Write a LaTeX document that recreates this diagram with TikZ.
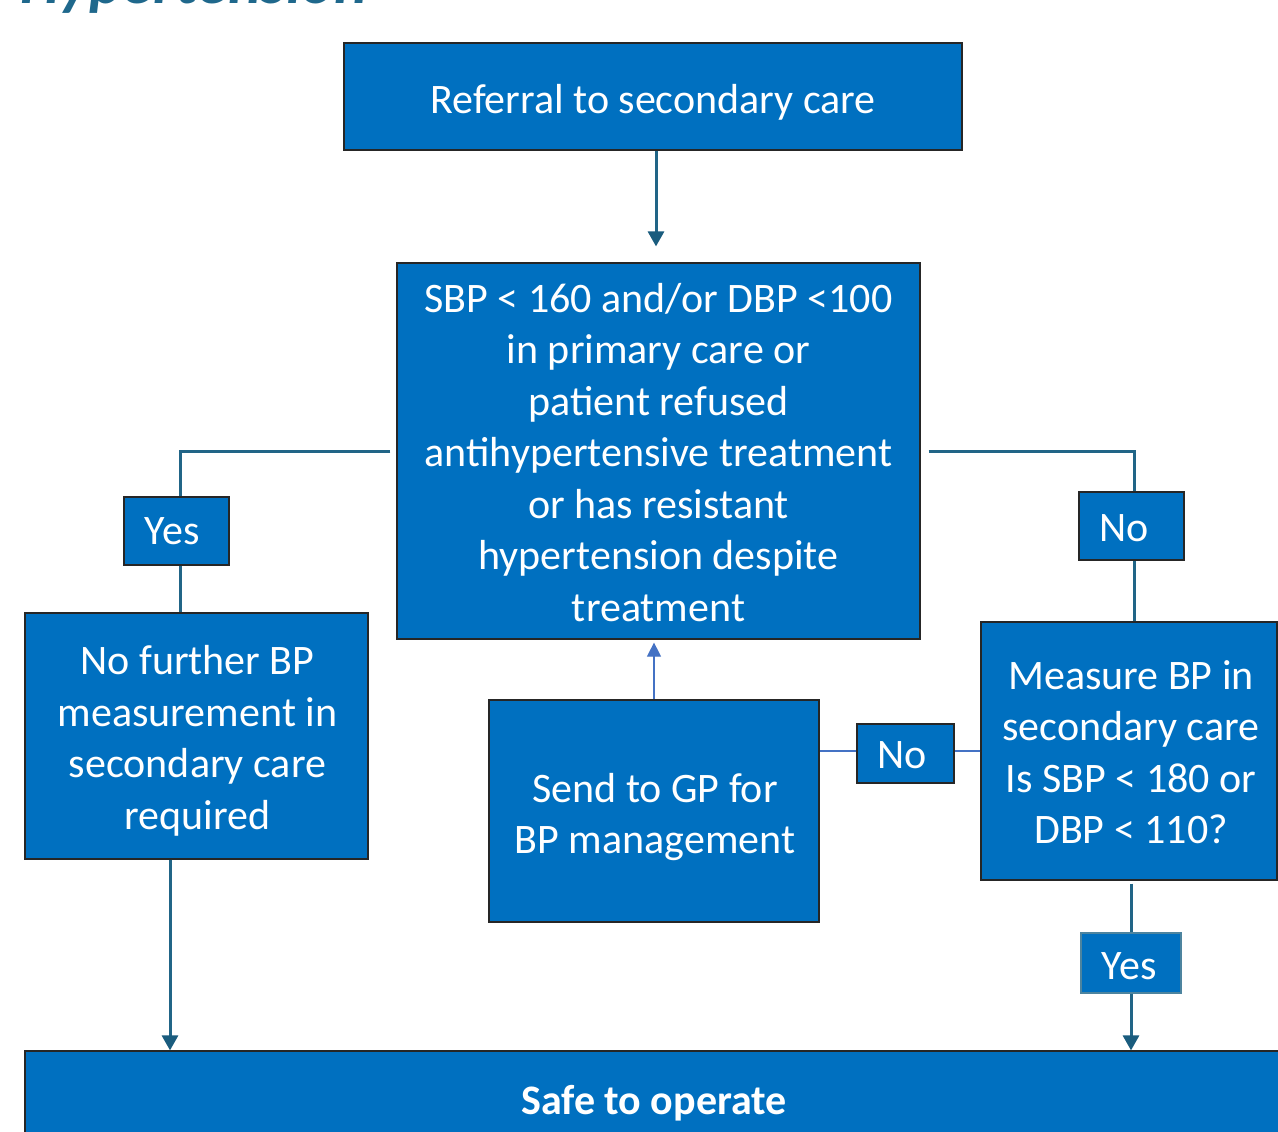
\documentclass[tikz,border=0pt]{standalone}
\usepackage{fontspec}
\setmainfont{Carlito}
\usetikzlibrary{arrows.meta,calc}
\definecolor{boxblue}{HTML}{0070C0}
\definecolor{conncol}{RGB}{33,101,135}
\definecolor{tipcol}{RGB}{26,92,126}
\definecolor{thinblue}{HTML}{4472C4}
\definecolor{titlecol}{RGB}{31,104,140}
\tikzset{
  flowbox/.style={draw=black!85, line width=1.2pt, fill=boxblue, inner sep=0pt},
  boxtext/.style={text=white, font=\fontsize{42}{51.5}\selectfont, align=center, inner sep=0pt},
  conn/.style={draw=conncol, line width=3pt},
  connarrow/.style={conn, -{Triangle[width=16pt,length=15pt,color=tipcol]}},
  thinline/.style={draw=thinblue, line width=1.2pt},
  thinarrow/.style={thinline, -{Triangle[width=14pt,length=14pt]}},
}
\begin{document}
\begin{tikzpicture}[x=1pt,y=-1pt]
\clip (0,0) rectangle (1278,1132);
\useasboundingbox (0,0) rectangle (1278,1132);
\fill[white] (0,0) rectangle (1278,1132);
% cropped title
\node[anchor=base west, inner sep=0pt, text=titlecol,
  font=\fontsize{63}{63}\selectfont\bfseries\itshape] (title) at (20,4) {Hypertension};
% boxes
\node[flowbox, minimum width=618pt, minimum height=107pt] (ref) at (653,96.5) {};
\node[boxtext] (reftext) at (653,102.5) {Referral to secondary care};
\node[flowbox, minimum width=523pt, minimum height=376pt] (sbp) at (658.5,451) {};
\node[boxtext] (sbptext) at (658.5,452.5)
  {SBP < 160 and/or DBP <100\\ in primary care or\\ patient refused\\ antihypertensive treatment\\ or has resistant\\ hypertension despite\\ treatment};
\node[flowbox, minimum width=105pt, minimum height=68pt] (yes1) at (176.5,531) {};
\node[boxtext] (yes1text) at (172,531) {Yes};
\node[flowbox, minimum width=105pt, minimum height=68pt] (no1) at (1131.5,526) {};
\node[boxtext] (no1text) at (1124,528) {No};
\node[flowbox, minimum width=343pt, minimum height=246pt] (left) at (196.5,736) {};
\node[boxtext] (lefttext) at (197.5,741)
  {No further BP\\ measurement in\\ secondary care\\ required};
\node[flowbox, minimum width=330pt, minimum height=222pt] (gp) at (654,811) {};
\node[boxtext] (gptext) at (655,817) {Send to GP for\\ BP management};
\node[flowbox, minimum width=97pt, minimum height=59pt] (no2) at (905.5,753.5) {};
\node[boxtext] (no2text) at (902,755.5) {No};
\node[flowbox, minimum width=296pt, minimum height=258pt] (meas) at (1129,751) {};
\node[boxtext] (meastext) at (1131,752)
  {Measure BP in\\ secondary care\\ Is SBP < 180 or\\ DBP < 110?};
\node[flowbox, draw=conncol!80, minimum width=100pt, minimum height=60pt] (yes2) at (1131,963) {};
\node[boxtext] (yes2text) at (1129,966) {Yes};
\node[flowbox, minimum width=1256pt, minimum height=99pt] (safe) at (653,1100.5) {};
\node[boxtext, font=\fontsize{42}{50}\selectfont\bfseries] (safetext) at (654,1103.5) {Safe to operate};
% connectors
\draw[connarrow, shorten >=16pt] ([xshift=3pt]ref.south) -- ([xshift=3pt]ref.south |- sbp.north);
\draw[conn] ([xshift=-6pt]sbp.west) -| ([xshift=3.5pt]yes1.north);
\draw[conn] ([xshift=3.5pt]yes1.south) -- ([xshift=3.5pt]yes1.south |- left.north);
\draw[conn] ([xshift=8pt]sbp.east) -| ([xshift=2.5pt]no1.north);
\draw[conn] ([xshift=2.5pt]no1.south) -- ([xshift=2.5pt]no1.south |- meas.north);
\draw[conn] (yes2.north |- meas.south) ++(0,3) -- (yes2.north);
\draw[connarrow] (yes2.south) -- (yes2.south |- safe.north);
\draw[connarrow] ([xshift=-26.5pt]left.south) -- ([xshift=-26.5pt]left.south |- safe.north);
\draw[thinline] (meas.west) -- (meas.west -| no2.east);
\draw[thinline] (no2.west |- meas.west) -- (meas.west -| gp.east);
\draw[thinarrow, shorten >=3pt] (gp.north) -- (gp.north |- sbp.south);
\end{tikzpicture}
\end{document}
